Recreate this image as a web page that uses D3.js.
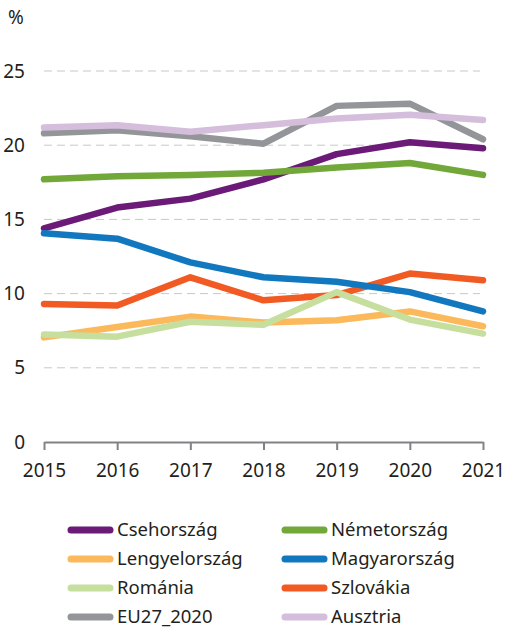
<!DOCTYPE html>
<html>
<head>
<meta charset="utf-8">
<script src="https://cdn.jsdelivr.net/npm/d3@7"></script>
<style>
  body { margin: 0; background: #fff; }
  text { font-family: "Noto Sans", "Open Sans", sans-serif; fill: #231f20; }
</style>
</head>
<body>
<div id="chart"></div>
<script>
const years = [2015, 2016, 2017, 2018, 2019, 2020, 2021];
const yTicks = [0, 5, 10, 15, 20, 25];

const csehorszag = [14.4, 15.8, 16.4, 17.7, 19.4, 20.2, 19.8];
const nemetorszag = [17.7, 17.9, 18.0, 18.15, 18.5, 18.8, 18.0];
const lengyelorszag = [7.05, 7.75, 8.45, 8.05, 8.2, 8.8, 7.8];
const magyarorszag = [14.06, 13.7, 12.1, 11.1, 10.8, 10.1, 8.8];
const romania = [7.25, 7.1, 8.1, 7.9, 10.1, 8.25, 7.3];
const szlovakia = [9.3, 9.2, 11.1, 9.55, 9.9, 11.35, 10.9];
const eu27 = [20.8, 21.0, 20.6, 20.1, 22.65, 22.8, 20.4];
const ausztria = [21.2, 21.35, 20.9, 21.35, 21.8, 22.05, 21.7];

// legend order (two columns, row by row)
const series = [
  {name: "Csehország", values: csehorszag, color: "#6b1a78"},
  {name: "Németország", values: nemetorszag, color: "#72a83a"},
  {name: "Lengyelország", values: lengyelorszag, color: "#fbb95b"},
  {name: "Magyarország", values: magyarorszag, color: "#1178c0"},
  {name: "Románia", values: romania, color: "#c6df9f"},
  {name: "Szlovákia", values: szlovakia, color: "#f15a22"},
  {name: "EU27_2020", values: eu27, color: "#939598"},
  {name: "Ausztria", values: ausztria, color: "#d5bedb"}
];
// drawing order, later ones on top
const drawOrder = ["Lengyelország", "Csehország", "Németország", "Szlovákia", "Magyarország", "Románia", "EU27_2020", "Ausztria"];

const width = 507, height = 630;
const margin = {top: 71, left: 44, right: 24};
const plotBottom = 442;
const fontSize = 19;

const svg = d3.select("#chart").append("svg")
  .attr("width", width)
  .attr("height", height);

const x = d3.scaleLinear()
  .domain([2015, 2021])
  .range([margin.left, width - margin.right]);

const y = d3.scaleLinear()
  .domain([0, 25])
  .range([plotBottom, margin.top]);

// gridlines
svg.append("g")
  .selectAll("line")
  .data(yTicks.filter(d => d > 0))
  .join("line")
  .attr("x1", x(2015))
  .attr("x2", x(2021) - 3)
  .attr("y1", d => y(d))
  .attr("y2", d => y(d))
  .attr("stroke", "#c8c8c8")
  .attr("stroke-width", 1)
  .attr("stroke-dasharray", "8,5");

// y labels
svg.append("g")
  .selectAll("text")
  .data(yTicks)
  .join("text")
  .attr("x", 25)
  .attr("y", d => y(d))
  .attr("dy", "0.35em")
  .attr("text-anchor", "end")
  .attr("font-size", fontSize)
  .text(d => d);

svg.append("text")
  .attr("x", 8)
  .attr("y", 24)
  .attr("font-size", fontSize)
  .text("%");

// x axis
const xAxis = d3.axisBottom(x)
  .tickValues(years)
  .tickFormat(d3.format("d"))
  .tickSize(8)
  .tickSizeOuter(0)
  .tickPadding(14);

const gx = svg.append("g")
  .attr("transform", "translate(0," + plotBottom + ")")
  .call(xAxis);
gx.select(".domain").attr("stroke", "#808285").attr("stroke-width", 2);
gx.selectAll(".tick line").attr("stroke", "#808285").attr("stroke-width", 2);
gx.selectAll(".tick text")
  .attr("font-size", fontSize)
  .attr("fill", "#231f20")
  .style("font-family", "'Noto Sans', 'Open Sans', sans-serif");

// lines
const line = d3.line()
  .x((d, i) => x(years[i]))
  .y(d => y(d));

svg.append("g")
  .selectAll("path")
  .data(drawOrder.map(n => series.find(s => s.name === n)))
  .join("path")
  .attr("d", d => line(d.values))
  .attr("fill", "none")
  .attr("stroke", d => d.color)
  .attr("stroke-width", 6.5)
  .attr("stroke-linejoin", "round")
  .attr("stroke-linecap", "round");

// legend
const legend = svg.append("g");
const legItems = legend.selectAll("g")
  .data(series)
  .join("g")
  .attr("transform", (d, i) => "translate(" + (i % 2 === 0 ? 71 : 285) + "," + (530 + Math.floor(i / 2) * 29) + ")");

legItems.append("line")
  .attr("x1", 0)
  .attr("x2", 39)
  .attr("stroke", d => d.color)
  .attr("stroke-width", 7)
  .attr("stroke-linecap", "round");

legItems.append("text")
  .attr("x", 46)
  .attr("dy", "0.33em")
  .attr("font-size", 18.5)
  .text(d => d.name);
</script>
</body>
</html>
